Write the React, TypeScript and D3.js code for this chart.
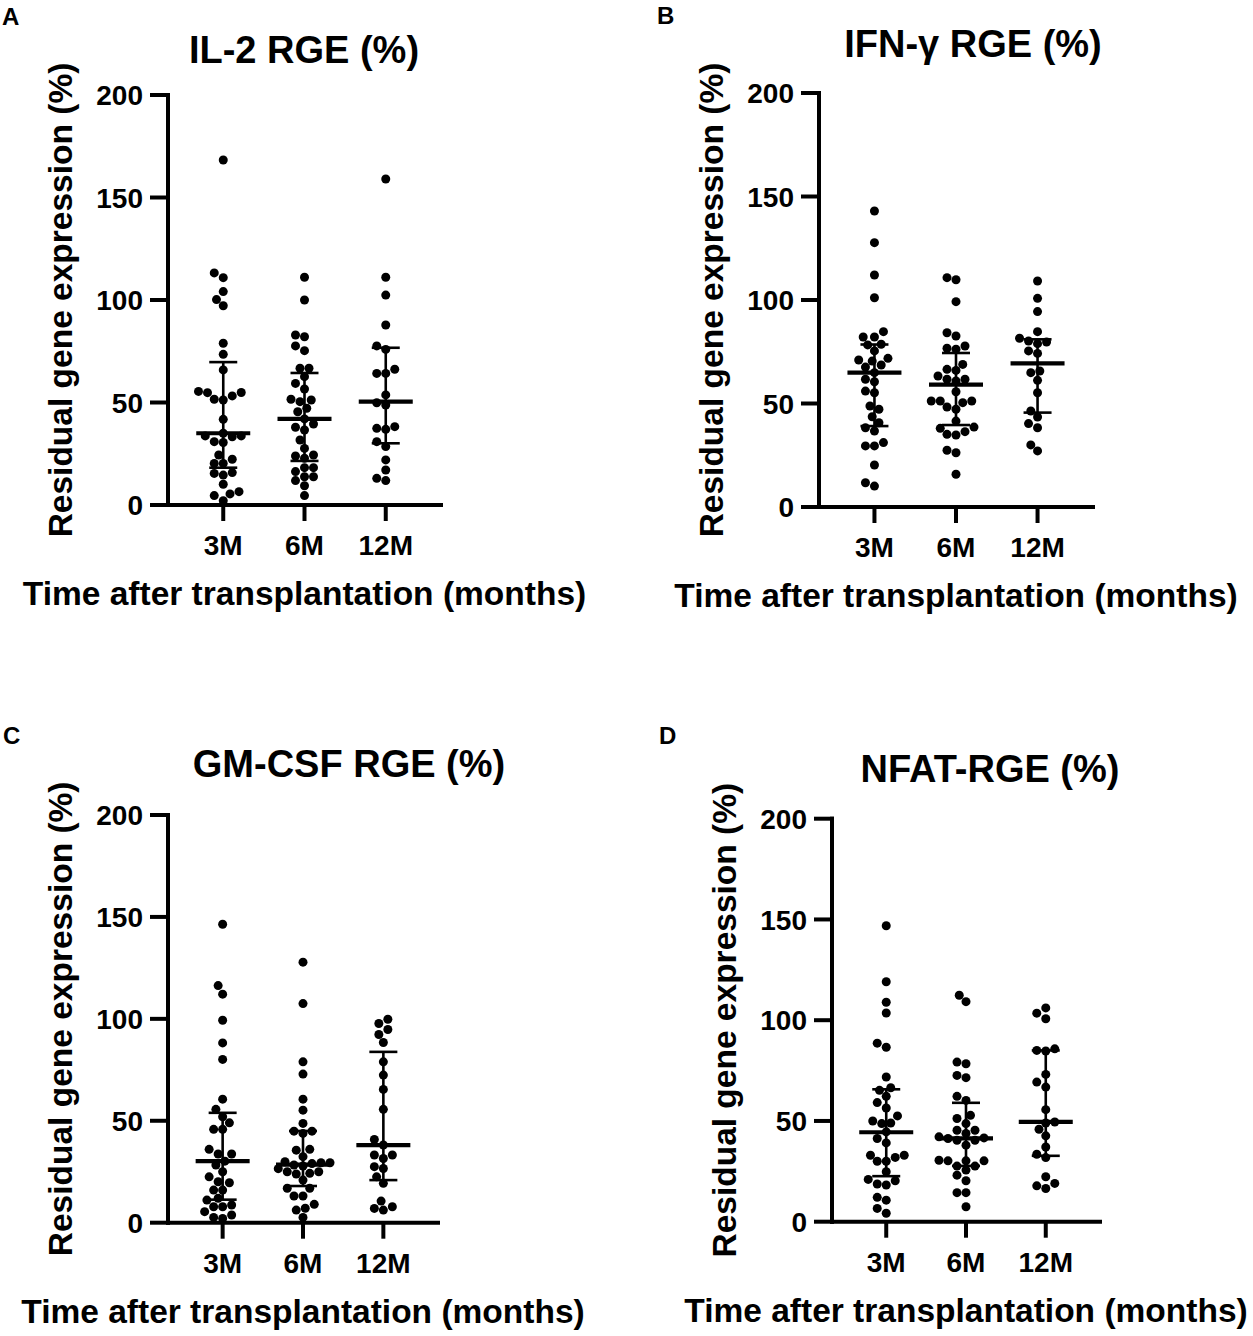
import * as d3 from 'd3';
import React from 'react';

const categories = ['3M', '6M', '12M'];
const yTicks = [0, 50, 100, 150, 200];

// IL-2 RGE (%)
const il2_3M = [168.3, 113.2, 110.9, 104.1, 100.2, 97.2, 78.9, 73.5, 65.9, 55.4, 54.9, 54.8, 53.2, 51.6, 51.2, 41.8, 35.0, 33.7, 33.7, 33.3, 30.9, 30.5, 24.4, 22.3, 20.3, 20.3, 15.8, 15.4, 14.6, 10.1, 6.5, 5.4, 4.6, 2.1];
const il2_6M = [111.1, 100.0, 82.9, 82.1, 77.6, 75.3, 66.7, 66.7, 62.6, 59.3, 56.6, 51.6, 51.2, 50.4, 47.2, 45.5, 42.0, 39.5, 37.9, 36.6, 31.7, 27.6, 24.4, 23.9, 22.8, 18.2, 18.2, 16.3, 13.8, 13.8, 11.9, 9.4, 4.6];
const il2_12M = [159.0, 111.1, 102.4, 87.8, 77.6, 75.9, 66.2, 64.2, 64.2, 53.7, 49.9, 48.8, 38.2, 37.4, 36.9, 30.9, 28.5, 22.0, 17.1, 13.0, 11.9];
const il2Median = [35.0, 42.0, 50.4];
const il2Upper = [69.7, 64.4, 76.7];
const il2Lower = [18.2, 21.5, 30.1];

// IFN-γ RGE (%)
const ifn_3M = [143.0, 127.7, 112.1, 101.1, 84.7, 82.1, 82.1, 78.6, 78.3, 75.4, 71.8, 71.0, 70.5, 68.6, 67.6, 64.9, 61.7, 60.5, 56.0, 55.2, 48.8, 47.2, 43.6, 40.7, 38.3, 36.7, 31.1, 29.5, 29.5, 20.3, 11.7, 10.1];
const ifn_6M = [110.8, 109.8, 99.2, 84.2, 82.6, 77.8, 76.7, 76.2, 68.9, 66.5, 66.0, 63.3, 61.7, 61.7, 60.9, 55.7, 51.2, 51.2, 51.2, 50.4, 48.3, 47.2, 41.5, 38.6, 38.0, 36.4, 35.1, 34.8, 27.4, 26.2, 15.8];
const ifn_12M = [109.2, 100.8, 94.4, 84.7, 81.5, 80.2, 79.7, 78.9, 75.4, 74.2, 65.7, 64.9, 61.2, 55.2, 46.4, 43.5, 40.3, 38.3, 30.0, 27.1];
const ifnMedian = [64.9, 59.1, 69.4];
const ifnUpper = [78.5, 74.4, 81.0];
const ifnLower = [39.1, 39.6, 45.6];

// GM-CSF RGE (%)
const gm_3M = [146.4, 116.3, 112.1, 99.3, 88.2, 80.1, 60.6, 55.6, 52.0, 49.0, 45.8, 45.8, 36.0, 33.7, 33.7, 30.2, 28.3, 25.0, 22.5, 20.1, 19.6, 16.0, 16.0, 12.0, 11.1, 8.7, 7.8, 7.8, 5.4, 3.8, 2.6, 2.1];
const gm_6M = [127.8, 107.5, 78.9, 72.9, 60.6, 55.2, 48.7, 44.9, 44.9, 43.8, 36.0, 35.6, 32.4, 29.9, 29.4, 29.4, 29.0, 28.3, 27.8, 26.5, 25.0, 25.0, 24.2, 23.9, 20.9, 16.9, 16.9, 13.1, 13.1, 9.0, 7.1, 6.2, 2.6];
const gm_12M = [99.8, 97.7, 94.8, 92.3, 88.4, 78.9, 72.4, 65.4, 55.6, 40.8, 38.1, 33.2, 33.2, 31.5, 27.5, 26.6, 22.5, 19.3, 10.6, 7.8, 7.0, 6.2];
const gmMedian = [30.2, 28.5, 38.1];
const gmUpper = [53.9, 45.0, 83.8];
const gmLower = [11.3, 18.0, 20.9];

// NFAT-RGE (%)
const nfat_3M = [146.9, 119.1, 108.9, 103.6, 88.6, 86.6, 71.8, 66.5, 65.2, 62.2, 59.1, 56.4, 52.5, 50.0, 49.0, 48.7, 44.6, 41.3, 39.1, 33.0, 33.0, 31.9, 30.0, 30.0, 24.8, 21.0, 20.3, 18.7, 18.2, 12.1, 10.7, 6.6, 4.2];
const nfat_6M = [112.4, 109.2, 79.2, 78.4, 72.6, 71.5, 62.2, 60.2, 52.8, 51.2, 48.7, 45.4, 45.4, 43.8, 42.1, 41.6, 41.3, 40.4, 40.4, 38.0, 30.5, 30.2, 30.2, 30.2, 27.6, 27.6, 25.6, 23.1, 20.3, 14.4, 14.4, 7.4];
const nfat_12M = [106.1, 103.5, 100.7, 85.8, 85.0, 84.7, 73.1, 69.3, 66.8, 55.6, 49.5, 49.0, 45.9, 42.6, 37.1, 33.5, 31.8, 22.3, 19.0, 17.8, 16.5];
const nfatMedian = [44.4, 41.4, 49.5];
const nfatUpper = [65.7, 59.0, 85.0];
const nfatLower = [22.6, 27.7, 32.7];

const panels = [
  { letter: 'A', title: 'IL-2 RGE (%)', groups: [il2_3M, il2_6M, il2_12M], median: il2Median, upper: il2Upper, lower: il2Lower,
    x0: 168, x1: 441, y0: 505, y1: 95, titleX: 304, titleY: 63, letterX: 2, letterY: 25 },
  { letter: 'B', title: 'IFN-γ RGE (%)', groups: [ifn_3M, ifn_6M, ifn_12M], median: ifnMedian, upper: ifnUpper, lower: ifnLower,
    x0: 819, x1: 1093, y0: 507, y1: 93, titleX: 973, titleY: 57, letterX: 657, letterY: 24 },
  { letter: 'C', title: 'GM-CSF RGE (%)', groups: [gm_3M, gm_6M, gm_12M], median: gmMedian, upper: gmUpper, lower: gmLower,
    x0: 168, x1: 438, y0: 1222.7, y1: 815, titleX: 349, titleY: 777, letterX: 3, letterY: 744 },
  { letter: 'D', title: 'NFAT-RGE (%)', groups: [nfat_3M, nfat_6M, nfat_12M], median: nfatMedian, upper: nfatUpper, lower: nfatLower,
    x0: 832, x1: 1100, y0: 1221.7, y1: 818.7, titleX: 990, titleY: 782, letterX: 659, letterY: 744 },
];

const FONT = '"Liberation Sans", Arial, sans-serif';
const R = 4.5;

// simple beeswarm: horizontal offsets so dots don't overlap
function swarm(ys: number[], r: number): number[] {
  const order = ys.map((_, i) => i).sort((a, b) => ys[b] - ys[a]);
  const placed: { x: number; y: number }[] = [];
  const xs = new Array(ys.length).fill(0);
  const minD = 2 * r;
  const step = r / 2;
  for (const i of order) {
    const y = ys[i];
    for (let k = 0; k < 120; k++) {
      const off = k === 0 ? 0 : (k % 2 === 1 ? -1 : 1) * Math.ceil(k / 2) * step;
      if (placed.every(p => (p.x - off) ** 2 + (p.y - y) ** 2 >= minD * minD)) {
        xs[i] = off;
        placed.push({ x: off, y });
        break;
      }
    }
  }
  return xs;
}

const Panel = ({ p }: { p: typeof panels[number] }) => {
  const y = d3.scaleLinear().domain([0, 200]).range([p.y0, p.y1]);
  const x = d3.scalePoint<string>().domain(categories).range([p.x0, p.x1]).padding(0.68);
  const midY = (p.y0 + p.y1) / 2;
  const midX = (p.x0 + p.x1) / 2;

  return (
    <g fontFamily={FONT} fontWeight="bold" fill="#000">
      <text x={p.letterX} y={p.letterY} fontSize={24}>{p.letter}</text>
      <text x={p.titleX} y={p.titleY} fontSize={38} textAnchor="middle">{p.title}</text>

      {/* y axis */}
      <line x1={p.x0} x2={p.x0} y1={y(200)} y2={p.y0} stroke="#000" strokeWidth={4} strokeLinecap="square" />
      {yTicks.map(t => (
        <g key={t}>
          <line x1={p.x0 - 16} x2={p.x0} y1={y(t)} y2={y(t)} stroke="#000" strokeWidth={4} strokeLinecap="square" />
          <text x={p.x0 - 25} y={y(t)} dy="0.36em" fontSize={28} textAnchor="end">{t}</text>
        </g>
      ))}
      <text transform={`translate(${p.x0 - 96},${midY}) rotate(-90)`} fontSize={33.5} textAnchor="middle">
        Residual gene expression (%)
      </text>

      {/* x axis */}
      <line x1={p.x0} x2={p.x1} y1={p.y0} y2={p.y0} stroke="#000" strokeWidth={4} strokeLinecap="square" />
      {categories.map(c => (
        <g key={c}>
          <line x1={x(c)} x2={x(c)} y1={p.y0} y2={p.y0 + 16} stroke="#000" strokeWidth={4} />
          <text x={x(c)} y={p.y0 + 50} fontSize={28} textAnchor="middle">{c}</text>
        </g>
      ))}
      <text x={midX} y={p.y0 + 100} fontSize={33.5} textAnchor="middle">Time after transplantation (months)</text>

      {/* dots */}
      {p.groups.map((vals, gi) => {
        const cx = x(categories[gi]) as number;
        const ys = vals.map(v => y(v));
        const offs = swarm(ys, R);
        return (
          <g key={gi}>
            {vals.map((v, i) => (
              <circle key={i} cx={cx + offs[i]} cy={ys[i]} r={R} fill="#000" />
            ))}
          </g>
        );
      })}

      {/* median + IQR */}
      {categories.map((c, i) => {
        const cx = x(c) as number;
        return (
          <g key={c} stroke="#000">
            <line x1={cx} x2={cx} y1={y(p.upper[i])} y2={y(p.lower[i])} strokeWidth={2.6} />
            <line x1={cx - 14} x2={cx + 14} y1={y(p.upper[i])} y2={y(p.upper[i])} strokeWidth={2.6} />
            <line x1={cx - 14} x2={cx + 14} y1={y(p.lower[i])} y2={y(p.lower[i])} strokeWidth={2.6} />
            <line x1={cx - 27} x2={cx + 27} y1={y(p.median[i])} y2={y(p.median[i])} strokeWidth={4.2} />
          </g>
        );
      })}
    </g>
  );
};

export default function App() {
  return (
    <svg width={1253} height={1336} style={{ position: 'absolute', left: 0, top: 0, background: '#fff' }}>
      <rect width={1253} height={1336} fill="#fff" />
      {panels.map(p => <Panel key={p.letter} p={p} />)}
    </svg>
  );
}
